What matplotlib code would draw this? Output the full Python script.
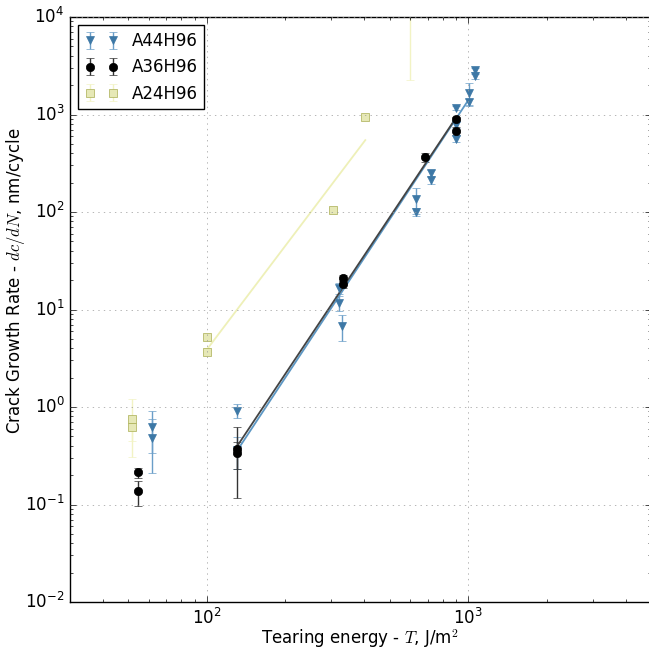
import matplotlib
matplotlib.use("Agg")
import matplotlib.pyplot as plt
import numpy as np

# Tearing energy T (J/m^2), crack growth rate dc/dN (nm/cycle) and error per compound
a44_T = [62, 62, 131, 131, 321, 321, 330, 629, 629, 718, 718, 896, 896, 896, 1004, 1004, 1060, 1060]
a44_rate = [0.62, 0.48, 0.92, 0.36, 16.5, 11.6, 6.7, 135, 100, 250, 212, 1160, 780, 560, 1660, 1340, 2860, 2480]
a44_err = [0.28, 0.27, 0.15, 0.13, 2, 2, 2, 40, 10, 20, 20, 50, 60, 40, 450, 100, 150, 150]

a36_T = [54.4, 54.4, 131, 131, 333, 333, 681, 896, 896]
a36_rate = [0.213, 0.136, 0.367, 0.334, 20.9, 18.2, 366, 898, 676]
a36_err = [0.025, 0.04, 0.25, 0.1, 1.5, 1.5, 40, 40, 60]

a24_T = [52, 52, 100, 100, 305, 404, 600]
a24_rate = [0.76, 0.63, 5.2, 3.7, 104, 940, 20000]
a24_err = [0.45, 0.18, 0.3, 0.3, 5, 30, 17750]

# power-law fit end points (T, rate)
a44_fit_T = [131, 1000]
a44_fit_rate = [0.36, 1400]
a36_fit_T = [131, 896]
a36_fit_rate = [0.40, 918]
a24_fit_T = [98, 404]
a24_fit_rate = [3.6, 546]

plt.style.use("classic")
plt.rcParams["mathtext.fontset"] = "cm"

fig = plt.figure(figsize=(6.49, 6.53), dpi=100, facecolor="white")
ax = fig.add_axes([70 / 649, 51 / 653, 581 / 649, 585 / 653])

blue = "#3d78a6"
blue_light = "#6a9ec8"
olive = "#a9ae52"

ax.errorbar(a44_T, a44_rate, yerr=a44_err, fmt="v", color=blue_light, ecolor=blue_light,
            mfc=blue, mec=blue, ms=6, capsize=3, label="A44H96")
ax.errorbar(a36_T, a36_rate, yerr=a36_err, fmt="o", color="k", ecolor="#333333",
            mfc="k", mec="k", ms=6, capsize=3, label="A36H96")
ax.errorbar(a24_T, a24_rate, yerr=a24_err, fmt="s", color="#f2f3c4", ecolor="#f2f3c4",
            mfc="#e6e8b6", mec=olive, ms=5.5, capsize=3, label="A24H96")

ax.plot(a44_fit_T, a44_fit_rate, color="#5c97c4", lw=1.3)
ax.plot(a36_fit_T, a36_fit_rate, color="#444444", lw=1.3)
ax.plot(a24_fit_T, a24_fit_rate, color="#eef0b8", lw=1.3)

ax.set_xscale("log")
ax.set_yscale("log")
ax.set_xlim(30, 5000)
ax.set_ylim(1e-2, 1e4)
ax.grid(True, which="major", linestyle=":", color="#999999")
ax.tick_params(labelsize=12)

ax.set_xlabel("Tearing energy - $T$, J/m$^2$", fontsize=12)
ax.set_ylabel("Crack Growth Rate - $dc/dN$, nm/cycle", fontsize=12)
ax.xaxis.set_label_coords(0.5, -0.043)
ax.yaxis.set_label_coords(-0.074, 0.55)

ax.legend(loc="upper left", numpoints=2, fontsize=12)

fig.savefig("out.png", dpi=100, facecolor="white")
